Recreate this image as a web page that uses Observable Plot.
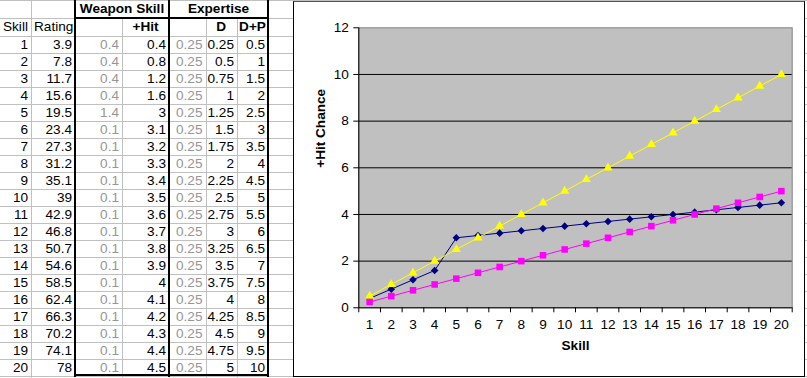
<!DOCTYPE html>
<html>
<head>
<meta charset="utf-8">
<script src="https://cdn.jsdelivr.net/npm/d3@7"></script>
<script src="https://cdn.jsdelivr.net/npm/@observablehq/plot@0.6"></script>
<style>
  html, body { margin: 0; padding: 0; background: #fff; }
  #page { position: relative; width: 807px; height: 378px; overflow: hidden; background: #fff;
          font-family: "Liberation Sans", Arial, sans-serif; font-size: 13.6px; color: #000; }
  .cell { position: absolute; white-space: nowrap; box-sizing: border-box; }
  .ln { position: absolute; }
  #chart { position: absolute; left: 293px; top: 1px; width: 510px; height: 374px;
           border: 1px solid #000; border-top-color: #555; background: #fff; }
  #chart svg { position: absolute; left: 0; top: 0; }
</style>
</head>
<body>
<div id="page"><div id="chart"></div></div>
<script>
// ---- data ----
const skill   = [1,2,3,4,5,6,7,8,9,10,11,12,13,14,15,16,17,18,19,20];
const rating  = [3.9,7.8,11.7,15.6,19.5,23.4,27.3,31.2,35.1,39,42.9,46.8,50.7,54.6,58.5,62.4,66.3,70.2,74.1,78];
const wsStep  = [0.4,0.4,0.4,0.4,1.4,0.1,0.1,0.1,0.1,0.1,0.1,0.1,0.1,0.1,0.1,0.1,0.1,0.1,0.1,0.1];
const hit     = [0.4,0.8,1.2,1.6,3,3.1,3.2,3.3,3.4,3.5,3.6,3.7,3.8,3.9,4,4.1,4.2,4.3,4.4,4.5];
const expStep = [0.25,0.25,0.25,0.25,0.25,0.25,0.25,0.25,0.25,0.25,0.25,0.25,0.25,0.25,0.25,0.25,0.25,0.25,0.25,0.25];
const expD    = [0.25,0.5,0.75,1,1.25,1.5,1.75,2,2.25,2.5,2.75,3,3.25,3.5,3.75,4,4.25,4.5,4.75,5];
const expDP   = [0.5,1,1.5,2,2.5,3,3.5,4,4.5,5,5.5,6,6.5,7,7.5,8,8.5,9,9.5,10];
const yTicks  = [0,2,4,6,8,10,12];
const groupHeaders = ["Weapon Skill", "Expertise"];
const colHeaders   = ["Skill", "Rating", "", "+Hit", "", "D", "D+P"];
const yTitle = "+Hit Chance";
const xTitle = "Skill";

// ---- spreadsheet table ----
const page = document.getElementById("page");
const colX = [0, 31, 75, 122, 169, 205.5, 237, 268];
const rowH = 17, dataTop = 36;
function line(x, y, w, h, c) {
  const d = document.createElement("div");
  d.className = "ln";
  Object.assign(d.style, {left: x + "px", top: y + "px", width: w + "px", height: h + "px", background: c});
  page.insertBefore(d, document.getElementById("chart"));
}
function cell(text, x0, x1, y0, h, opts = {}) {
  const d = document.createElement("div");
  d.className = "cell";
  d.textContent = text;
  Object.assign(d.style, {
    left: x0 + "px", width: (x1 - x0) + "px", top: y0 + "px", height: h + "px",
    lineHeight: h + "px", textAlign: opts.align || "right",
    paddingRight: (opts.align === "center" ? 0 : 3) + "px",
    paddingLeft: (opts.align === "left" ? 3 : 0) + "px",
    fontWeight: opts.bold ? "bold" : "normal", color: opts.color || "#000"
  });
  page.insertBefore(d, document.getElementById("chart"));
}
const grid = "#c0c0c0";
// horizontal gridlines
line(0, 0, 807, 1, grid);
line(0, 18, 807, 1, grid);
for (let i = 0; i <= skill.length; i++) line(0, dataTop + i * rowH, 807, 1, grid);
// vertical gridlines
[31, 122, 205.5, 237].forEach((x) => {
  const top = (x === 31) ? 0 : 18;
  line(Math.round(x), top, 1, 378 - top, grid);
});
// thick borders
[75, 169, 268].forEach(x => line(x - 1, 0, 2, 377, "#000"));
line(74, 17, 195, 2, "#000");
line(74, 374, 195, 2, "#000");

// headers
cell(groupHeaders[0], colX[2], colX[4], 0, 18, {align: "center", bold: true});
cell(groupHeaders[1], colX[4], colX[7], 0, 18, {align: "center", bold: true});
cell(colHeaders[0], colX[0], colX[1], 18, 18, {align: "left"});
cell(colHeaders[1], colX[1], colX[2], 18, 18, {align: "left"});
cell(colHeaders[3], colX[3], colX[4], 18, 18, {align: "center", bold: true});
cell(colHeaders[5], colX[5], colX[6], 18, 18, {align: "center", bold: true});
cell(colHeaders[6], colX[6], colX[7], 18, 18, {align: "center", bold: true});

const gray = "#969696";
skill.forEach((s, i) => {
  const y = dataTop + i * rowH;
  const vals = [s, rating[i], wsStep[i], hit[i], expStep[i], expD[i], expDP[i]];
  vals.forEach((v, j) => {
    cell(String(v), colX[j], colX[j + 1], y, rowH, {color: (j === 2 || j === 4) ? gray : "#000"});
  });
});

// ---- chart ----
const boundaries = skill.map(s => s - 0.5).concat([skill[skill.length - 1] + 0.5]);
const pts = (vals) => skill.map((s, i) => ({s, v: vals[i]}));
const hitPts = pts(hit), dPts = pts(expD), dpPts = pts(expDP);

const chart = Plot.plot({
  width: 510,
  height: 374,
  marginLeft: 64.3,
  marginRight: 12.3,
  marginTop: 25.3,
  marginBottom: 68.7,
  x: {domain: [boundaries[0], boundaries[boundaries.length - 1]]},
  y: {domain: [yTicks[0], yTicks[yTicks.length - 1]]},
  style: {fontFamily: "'Liberation Sans', Arial, sans-serif", fontSize: "13.6px", color: "#000", background: "transparent", overflow: "visible"},
  marks: [
    Plot.frame({fill: "#c0c0c0", stroke: "#808080"}),
    Plot.gridY(yTicks.slice(1, -1), {stroke: "#000", strokeOpacity: 1}),
    Plot.axisY({ticks: yTicks, tickSize: 5, tickPadding: 5, label: null, stroke: "#000"}),
    Plot.axisX({ticks: skill, tickSize: 0, tickPadding: 12, label: null}),
    Plot.axisX({ticks: boundaries, tickSize: 5, tickFormat: () => "", label: null, stroke: "#000"}),
    Plot.ruleX([boundaries[0]], {stroke: "#000"}),
    Plot.ruleY([yTicks[0]], {stroke: "#000"}),
    Plot.line(hitPts, {x: "s", y: "v", stroke: "#000080", strokeWidth: 1}),
    Plot.dot(hitPts, {x: "s", y: "v", symbol: "diamond2", fill: "#000080", r: 3.4}),
    Plot.line(dPts, {x: "s", y: "v", stroke: "#ff00ff", strokeWidth: 1}),
    Plot.dot(dPts, {x: "s", y: "v", symbol: "square", fill: "#ff00ff", r: 3.7}),
    Plot.line(dpPts, {x: "s", y: "v", stroke: "#ffff00", strokeWidth: 1}),
    Plot.dot(dpPts, {x: "s", y: "v", symbol: "triangle", fill: "#ffff00", r: 3.4}),
    Plot.text([xTitle], {frameAnchor: "bottom", dy: 42, fontWeight: "bold", fontSize: 13.6}),
    Plot.text([yTitle], {frameAnchor: "left", dx: -38, rotate: -90, fontWeight: "bold", fontSize: 13.6})
  ]
});
document.getElementById("chart").appendChild(chart);
</script>
</body>
</html>
